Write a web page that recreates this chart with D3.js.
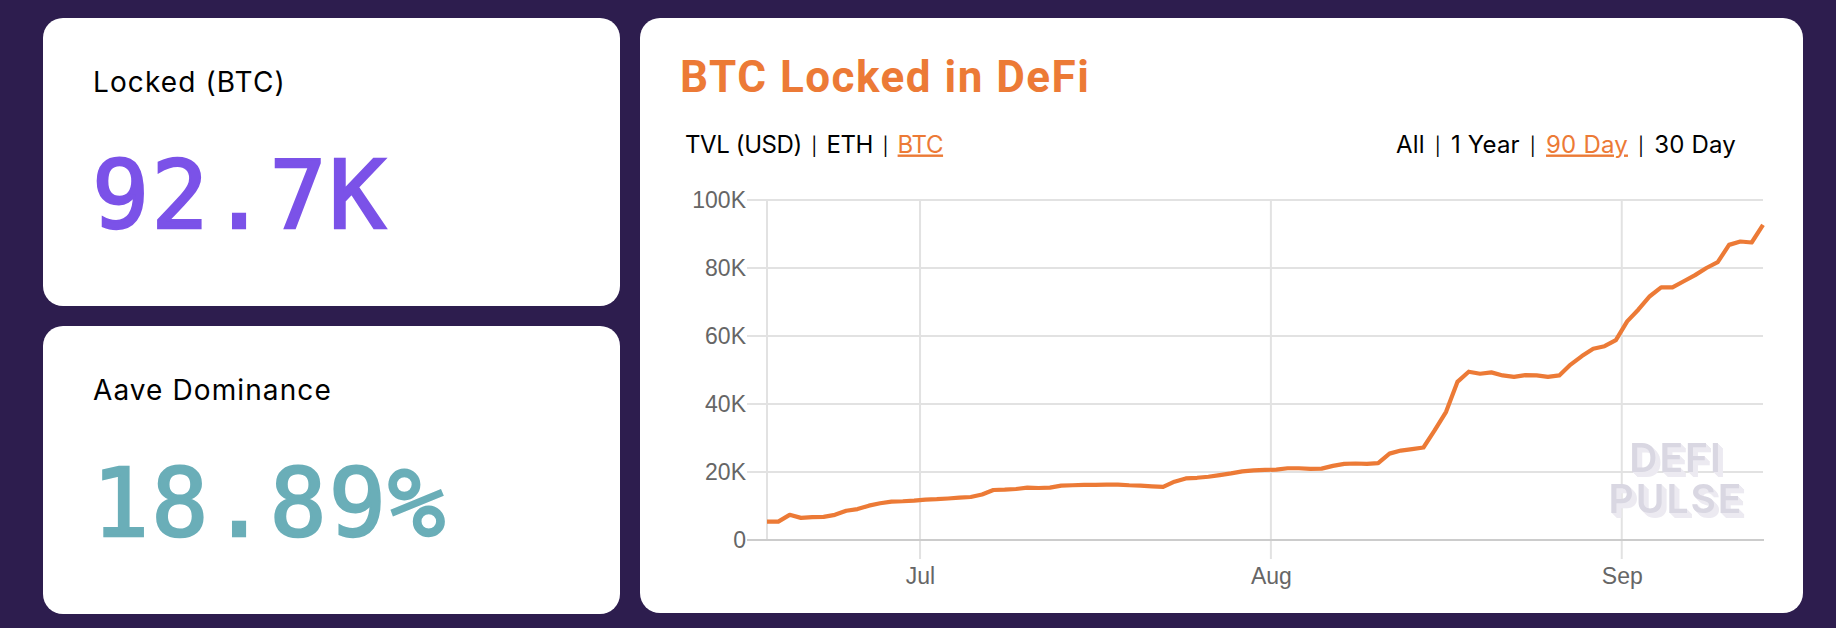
<!DOCTYPE html>
<html lang="en">
  <head>
    <meta charset="utf-8" />
    <title>BTC Locked in DeFi</title>
    <script src="https://d3js.org/d3.v7.min.js"></script>
    <style>
      body {
        margin: 0;
        background: #2d1d4e;
      }
      svg {
        display: block;
      }
      .label {
        font-family: Inter;
        font-size: 28px;
        letter-spacing: 1.1px;
        fill: #000;
      }
      .bignum {
        font-family: "DejaVu Sans Mono";
        font-size: 95px;
        letter-spacing: 2px;
        stroke-width: 2.4px;
      }
      .title {
        font-family: Roboto;
        font-weight: 700;
        font-size: 44px;
        letter-spacing: 1.5px;
        fill: #ec7a36;
      }
      .tab {
        font-family: Inter;
        font-size: 24px;
        fill: #000;
      }
      .tab.metric {
        letter-spacing: -0.4px;
      }
      .tab.range {
        letter-spacing: 0.2px;
      }
      .tab .active {
        fill: #ec7a36;
        text-decoration: underline;
      }
      .tab .sep {
        font-size: 18px;
      }
      .axis text {
        font-family: "Liberation Sans";
        font-size: 23px;
        fill: #666;
      }
      .grid line {
        stroke: #e2e2e2;
        stroke-width: 2px;
      }
      .watermark {
        font-family: Inter;
        font-weight: 600;
        font-size: 39px;
        letter-spacing: 2px;
      }
    </style>
  </head>

  <body>
    <div id="chart"></div>

    <script>
      // DATA
      const firstDay = new Date(2020, 5, 17, 11, 30);
      // one reading per day, BTC locked
      const btcLocked = [
        5400, 5400, 7400, 6500, 6700, 6800, 7400, 8600, 9100, 10100, 10800,
        11300, 11400, 11600, 11900, 12000, 12200, 12450, 12650, 13400, 14700,
        14800, 15000, 15400, 15300, 15400, 16000, 16100, 16200, 16200, 16300,
        16300, 16100, 16000, 15800, 15600, 17150, 18100, 18300, 18600, 19100,
        19600, 20200, 20500, 20600, 20700, 21100, 21100, 20900, 21000, 21800,
        22400, 22500, 22400, 22600, 25400, 26300, 26750, 27200, 32300, 37700,
        46500, 49500, 48900, 49300, 48400, 48000, 48500, 48400, 48000, 48400,
        51600, 54100, 56250, 57000, 58800, 64300, 67800, 71700, 74300, 74300,
        76100, 77900, 80000, 81700, 86800, 87800, 87500, 92700,
      ];
      const yTicks = [0, 20000, 40000, 60000, 80000, 100000];
      const monthTicks = [
        new Date(2020, 6, 1),
        new Date(2020, 7, 1),
        new Date(2020, 8, 1),
      ];
      const statLabels = ["Locked (BTC)", "Aave Dominance"];
      const statValues = ["92.7K", "18.89%"];
      const metricTabs = ["TVL (USD)", "ETH", "BTC"];
      const rangeTabs = ["All", "1 Year", "90 Day", "30 Day"];
      const activeTabs = ["BTC", "90 Day"];
      const watermarkWords = ["DEFI", "PULSE"];

      const width = 1836;
      const height = 628;
      const orange = "#ec7a36";
      const statColors = ["#7b52e8", "#6aaeb8"];
      const statTops = [18, 326];

      const svg = d3
        .select("#chart")
        .append("svg")
        .attr("width", width)
        .attr("height", height);

      // extruded look for the watermark, kept as one text per word
      const extrude = svg
        .append("defs")
        .append("filter")
        .attr("id", "extrude")
        .attr("x", "-5%")
        .attr("y", "-5%")
        .attr("width", "115%")
        .attr("height", "125%");
      extrude
        .append("feFlood")
        .attr("flood-color", "#eceaf1")
        .attr("result", "shade");
      extrude
        .append("feComposite")
        .attr("in", "shade")
        .attr("in2", "SourceAlpha")
        .attr("operator", "in")
        .attr("result", "flat");
      const depths = [5, 4, 3, 2, 1];
      depths.forEach((depth) => {
        extrude
          .append("feOffset")
          .attr("in", "flat")
          .attr("dx", depth)
          .attr("dy", depth)
          .attr("result", `off${depth}`);
      });
      const merge = extrude.append("feMerge");
      depths.forEach((depth) => {
        merge.append("feMergeNode").attr("in", `off${depth}`);
      });
      merge.append("feMergeNode").attr("in", "SourceGraphic");

      // CARDS
      const statCards = svg
        .selectAll("g.stat")
        .data(statLabels)
        .join("g")
        .attr("class", "stat")
        .attr("transform", (d, i) => `translate(43,${statTops[i]})`);
      statCards
        .append("rect")
        .attr("width", 577)
        .attr("height", 288)
        .attr("rx", 20)
        .attr("fill", "#fff");
      statCards
        .append("text")
        .attr("class", "label")
        .attr("x", 50)
        .attr("y", 74)
        .text((d) => d);
      statCards
        .append("text")
        .attr("class", "bignum")
        .attr("x", 49)
        .attr("y", 210)
        .attr("fill", (d, i) => statColors[i])
        .attr("stroke", (d, i) => statColors[i])
        .text((d, i) => statValues[i]);

      svg
        .append("rect")
        .attr("x", 640)
        .attr("y", 18)
        .attr("width", 1163)
        .attr("height", 595)
        .attr("rx", 20)
        .attr("fill", "#fff");

      svg
        .append("text")
        .attr("class", "title")
        .attr("x", 680)
        .attr("y", 92)
        .text("BTC Locked in DeFi");

      // tabs, separated by bars
      function drawTabs(tabs, x, anchor, kind, gap) {
        const text = svg
          .append("text")
          .attr("class", `tab ${kind}`)
          .attr("x", x)
          .attr("y", 152.5)
          .attr("text-anchor", anchor);
        tabs.forEach((tab, i) => {
          if (i > 0) {
            text.append("tspan").attr("class", "sep").attr("dx", gap).text("|");
          }
          text
            .append("tspan")
            .attr("class", activeTabs.includes(tab) ? "active" : null)
            .attr("dx", i > 0 ? gap : 0)
            .text(tab);
        });
      }
      drawTabs(metricTabs, 685, "start", "metric", 9.5);
      drawTabs(rangeTabs, 1736, "end", "range", 10);

      // CHART
      const dates = btcLocked.map((d, i) => d3.timeDay.offset(firstDay, i));
      const x = d3
        .scaleTime()
        .domain(d3.extent(dates))
        .range([767, 1763]);
      const y = d3.scaleLinear().domain([0, 100000]).range([540, 200]);

      const xAxis = d3
        .axisBottom(x)
        .tickValues(monthTicks)
        .tickSize(0)
        .tickPadding(28)
        .tickFormat(d3.timeFormat("%b"));
      const yAxis = d3
        .axisLeft(y)
        .tickValues(yTicks)
        .tickSize(0)
        .tickPadding(21)
        .tickFormat((d) => (d ? `${d / 1000}K` : "0"));

      // horizontal and vertical grid
      svg
        .append("g")
        .attr("class", "grid")
        .selectAll("line")
        .data(yTicks.slice(1))
        .join("line")
        .attr("x1", 747)
        .attr("x2", 1763)
        .attr("y1", (d) => y(d))
        .attr("y2", (d) => y(d));
      svg
        .append("g")
        .attr("class", "grid")
        .selectAll("line")
        .data(monthTicks)
        .join("line")
        .attr("x1", (d) => x(d))
        .attr("x2", (d) => x(d))
        .attr("y1", 200)
        .attr("y2", 559);
      svg
        .append("line")
        .attr("x1", 767)
        .attr("x2", 767)
        .attr("y1", 200)
        .attr("y2", 540)
        .attr("stroke", "#e2e2e2")
        .attr("stroke-width", 2);
      svg
        .append("line")
        .attr("x1", 747)
        .attr("x2", 1764)
        .attr("y1", y(0))
        .attr("y2", y(0))
        .attr("stroke", "#ccc")
        .attr("stroke-width", 2);

      svg
        .append("g")
        .attr("class", "axis")
        .attr("transform", "translate(0,540)")
        .call(xAxis);
      svg
        .append("g")
        .attr("class", "axis")
        .attr("transform", "translate(767,0)")
        .call(yAxis);
      svg.selectAll(".axis .domain").remove();

      // watermark sits behind the line
      svg
        .append("g")
        .attr("class", "watermark")
        .selectAll("text")
        .data(watermarkWords)
        .join("text")
        .attr("x", 1676)
        .attr("y", (d, i) => 472 + i * 41)
        .attr("text-anchor", "middle")
        .attr("fill", "#d9d7e2")
        .attr("filter", "url(#extrude)")
        .text((d) => d);

      const line = d3
        .line()
        .x((d, i) => x(dates[i]))
        .y((d) => y(d));
      svg
        .append("path")
        .datum(btcLocked)
        .attr("d", line)
        .attr("fill", "none")
        .attr("stroke", orange)
        .attr("stroke-width", 4.2)
        .attr("stroke-linejoin", "round");
    </script>
  </body>
</html>
